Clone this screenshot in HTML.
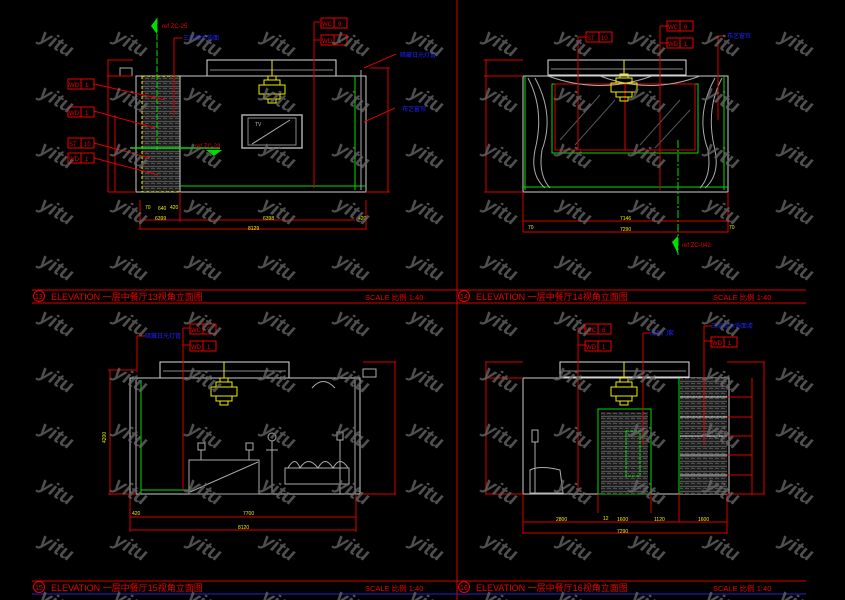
<!DOCTYPE html>
<html><head><meta charset="utf-8"><style>
html,body{margin:0;padding:0;background:#000;}
svg{display:block;}
text{font-family:"Liberation Sans","Noto Sans CJK SC",sans-serif;}
</style></head><body>
<svg width="845" height="600" viewBox="0 0 845 600" xmlns="http://www.w3.org/2000/svg">
<defs>
<pattern id="tex" width="6" height="5" patternUnits="userSpaceOnUse">
<rect width="6" height="5" fill="#1c1c1c"/>
<path d="M0 1 L2 2 L4 1 L6 2 M1 4 L3 3 L5 4" stroke="#777" stroke-width="0.6" fill="none"/>
</pattern>
<g id="chand" stroke="#ee0" fill="none" stroke-width="1">
<rect x="-4" y="-14" width="8" height="4"/><rect x="-8" y="-10" width="16" height="5"/>
<rect x="-13" y="-5" width="26" height="9"/><rect x="-8" y="4" width="16" height="5"/><rect x="-4" y="9" width="8" height="4"/>
</g>
<g id="tagWC"><rect x="0" y="0" width="13" height="10" fill="none" stroke="#e00"/><rect x="13" y="0" width="13" height="10" fill="none" stroke="#e00"/></g>
</defs>
<rect width="845" height="600" fill="#000"/>

<line x1="457" y1="0" x2="457" y2="600" stroke="#d00"/>
<line x1="32" y1="290" x2="806" y2="290" stroke="#d00"/>
<line x1="32" y1="303" x2="806" y2="303" stroke="#d00"/>
<line x1="32" y1="581" x2="806" y2="581" stroke="#d00"/>
<line x1="32" y1="594" x2="806" y2="594" stroke="#22d"/>
<g fill="#e00" font-size="9">
<circle cx="39" cy="296" r="5.5" fill="none" stroke="#e00"/><text x="35" y="299" font-size="7">13</text>
<text x="51" y="300">ELEVATION  一层中餐厅13视角立面图</text><text x="365" y="300" font-size="7.5">SCALE 比例 1:40</text>
<circle cx="464" cy="296" r="5.5" fill="none" stroke="#e00"/><text x="460" y="299" font-size="7">14</text>
<text x="476" y="300">ELEVATION  一层中餐厅14视角立面图</text><text x="713" y="300" font-size="7.5">SCALE 比例 1:40</text>
<circle cx="39" cy="587" r="5.5" fill="none" stroke="#e00"/><text x="35" y="590" font-size="7">15</text>
<text x="51" y="591">ELEVATION  一层中餐厅15视角立面图</text><text x="365" y="591" font-size="7.5">SCALE 比例 1:40</text>
<circle cx="464" cy="587" r="5.5" fill="none" stroke="#e00"/><text x="460" y="590" font-size="7">16</text>
<text x="476" y="591">ELEVATION  一层中餐厅16视角立面图</text><text x="713" y="591" font-size="7.5">SCALE 比例 1:40</text>
</g>

<g>
<rect x="207" y="60" width="129" height="16" fill="none" stroke="#ddd"/>
<line x1="210" y1="70" x2="333" y2="70" stroke="#888"/>
<line x1="207" y1="76" x2="336" y2="76" stroke="#0c0"/>
<line x1="136" y1="76" x2="355" y2="76" stroke="#999"/>
<rect x="136" y="76" width="230" height="116" fill="none" stroke="#ccc"/>
<rect x="142" y="76" width="38" height="116" fill="url(#tex)" stroke="#ee0" stroke-dasharray="3 2"/>
<line x1="180" y1="76" x2="180" y2="192" stroke="#ccc"/>
<line x1="180" y1="186" x2="366" y2="186" stroke="#0d0"/>
<line x1="355" y1="76" x2="355" y2="190" stroke="#0d0"/>
<line x1="361" y1="70" x2="361" y2="190" stroke="#aaa"/>
<line x1="130" y1="148" x2="220" y2="148" stroke="#0d0" stroke-width="1.5"/>
<line x1="157" y1="18" x2="157" y2="150" stroke="#0d0" stroke-dasharray="6 2"/>
<path d="M157 18 L151 26 L157 34Z" fill="#0d0"/>
<path d="M206 150 L222 150 L214 156Z" fill="#0d0"/>
<text x="162" y="28" fill="#e00" font-size="6">ref ZC-25</text>
<text x="195" y="148" fill="#e00" font-size="6">ref ZC-23</text>
<rect x="242" y="115" width="60" height="33" fill="none" stroke="#aaa" stroke-width="1.5"/>
<rect x="248" y="118" width="48" height="27" fill="none" stroke="#888"/>
<line x1="252" y1="144" x2="290" y2="120" stroke="#aaa"/>
<text x="255" y="126" fill="#bbb" font-size="5">TV</text>
<use href="#chand" x="272" y="90"/>
<line x1="272" y1="60" x2="272" y2="76" stroke="#ee0"/>
<rect x="120" y="68" width="12" height="8" fill="none" stroke="#aaa"/>
<g stroke="#d00" fill="none">
<line x1="107" y1="60" x2="133" y2="60"/><line x1="107" y1="76" x2="133" y2="76"/>
<line x1="108" y1="60" x2="108" y2="192"/><line x1="115" y1="115" x2="115" y2="192"/>
<line x1="108" y1="192" x2="136" y2="192"/>
<line x1="140" y1="200" x2="140" y2="230"/><line x1="366" y1="200" x2="366" y2="230"/>
<line x1="140" y1="229" x2="366" y2="229"/><line x1="140" y1="220" x2="355" y2="220"/>
<line x1="180" y1="192" x2="180" y2="222"/>
<line x1="388" y1="68" x2="388" y2="192"/><line x1="370" y1="68" x2="390" y2="68"/><line x1="366" y1="192" x2="390" y2="192"/>
<line x1="314" y1="22" x2="314" y2="188"/><line x1="314" y1="22" x2="320" y2="22"/><line x1="314" y1="40" x2="320" y2="40"/>
<line x1="174" y1="38" x2="174" y2="115"/><line x1="174" y1="38" x2="182" y2="38"/>
<line x1="94" y1="84" x2="165" y2="100"/><line x1="94" y1="111" x2="155" y2="128"/>
<line x1="94" y1="143" x2="150" y2="158"/><line x1="94" y1="158" x2="158" y2="175"/>
<line x1="364" y1="68" x2="396" y2="54"/><line x1="364" y1="122" x2="395" y2="108"/>
</g>
<g font-size="6" fill="#e00">
<use href="#tagWC" x="68" y="79"/><text x="69" y="87">WD</text><text x="85" y="87">1</text>
<use href="#tagWC" x="68" y="107"/><text x="69" y="115">WD</text><text x="85" y="115">1</text>
<use href="#tagWC" x="68" y="138"/><text x="69" y="146">ST</text><text x="84" y="146">10</text>
<use href="#tagWC" x="68" y="153"/><text x="69" y="161">WD</text><text x="85" y="161">1</text>
<use href="#tagWC" x="321" y="18"/><text x="322" y="26">WC</text><text x="338" y="26">9</text>
<use href="#tagWC" x="321" y="35"/><text x="322" y="43">WD</text><text x="338" y="43">1</text>
</g>
<g font-size="6" fill="#22f"><text x="183" y="40">三层樟木饰面</text><text x="400" y="57">暗藏日光灯管</text><text x="402" y="111">布艺窗帘</text></g>
<g font-size="5" fill="#ee0"><text x="158" y="210">640</text><text x="155" y="220">6399</text><text x="263" y="220">6398</text><text x="248" y="230">8129</text><text x="358" y="220">420</text><text x="145" y="209">70</text><text x="170" y="209">420</text></g>
</g>

<g>
<rect x="548" y="60" width="138" height="15" fill="none" stroke="#ddd"/>
<line x1="551" y1="69" x2="683" y2="69" stroke="#888"/>
<rect x="523" y="76" width="205" height="116" fill="none" stroke="#ccc"/>
<line x1="523" y1="187" x2="728" y2="187" stroke="#0d0"/>
<line x1="525" y1="76" x2="525" y2="190" stroke="#0d0"/>
<line x1="724" y1="76" x2="724" y2="190" stroke="#0d0"/>
<rect x="552" y="84" width="146" height="69" fill="none" stroke="#0d0"/>
<rect x="555" y="84" width="140" height="66" fill="none" stroke="#d00"/>
<line x1="625" y1="84" x2="625" y2="150" stroke="#d00"/>
<g stroke="#555"><line x1="560" y1="140" x2="600" y2="95"/><line x1="575" y1="145" x2="615" y2="100"/><line x1="640" y1="145" x2="680" y2="100"/><line x1="655" y1="148" x2="690" y2="110"/></g>
<g stroke="#aaa" fill="none"><path d="M528 78 Q545 110 535 150 Q530 175 545 188"/><path d="M535 78 Q555 115 542 150 Q538 175 550 188"/><path d="M722 78 Q705 110 715 150 Q720 175 705 188"/><path d="M715 78 Q695 115 708 150 Q712 175 700 188"/><path d="M548 76 Q600 95 652 76"/><path d="M600 76 Q650 95 700 76"/></g>
<use href="#chand" x="624" y="88"/><line x1="624" y1="60" x2="624" y2="76" stroke="#ee0"/>
<line x1="678" y1="140" x2="678" y2="255" stroke="#0d0" stroke-dasharray="8 2 2 2"/>
<path d="M678 236 L672 242 L678 254Z" fill="#0d0"/><text x="682" y="247" fill="#e00" font-size="6">ref ZC-042</text>
<g stroke="#d00" fill="none">
<line x1="484" y1="60" x2="523" y2="60"/><line x1="484" y1="76" x2="523" y2="76"/>
<line x1="486" y1="60" x2="486" y2="192"/><line x1="484" y1="192" x2="523" y2="192"/>
<line x1="523" y1="192" x2="523" y2="232"/><line x1="728" y1="192" x2="728" y2="232"/>
<line x1="523" y1="221" x2="728" y2="221"/><line x1="523" y1="232" x2="728" y2="232"/>
<line x1="578" y1="37" x2="578" y2="150"/><line x1="578" y1="37" x2="586" y2="37"/>
<line x1="660" y1="26" x2="660" y2="190"/><line x1="660" y1="26" x2="668" y2="26"/><line x1="660" y1="43" x2="668" y2="43"/>
<line x1="718" y1="36" x2="718" y2="120"/><line x1="718" y1="36" x2="726" y2="36"/>
</g>
<g font-size="6" fill="#e00">
<use href="#tagWC" x="586" y="32"/><text x="587" y="40">ST</text><text x="601" y="40">10</text>
<use href="#tagWC" x="667" y="21"/><text x="668" y="29">WC</text><text x="684" y="29">6</text>
<use href="#tagWC" x="667" y="38"/><text x="668" y="46">WD</text><text x="684" y="46">1</text>
</g>
<text x="727" y="38" fill="#22f" font-size="6">布艺窗帘</text>
<g font-size="5" fill="#ee0"><text x="620" y="220">7146</text><text x="620" y="231">7290</text><text x="528" y="229">70</text><text x="729" y="229">70</text></g>
</g>

<g>
<rect x="160" y="362" width="129" height="16" fill="none" stroke="#ddd"/>
<line x1="163" y1="371" x2="286" y2="371" stroke="#888"/>
<line x1="160" y1="378" x2="289" y2="378" stroke="#0d0"/>
<rect x="130" y="378" width="230" height="116" fill="none" stroke="#ccc"/>
<line x1="136" y1="380" x2="136" y2="494" stroke="#aaa"/>
<line x1="141" y1="380" x2="141" y2="494" stroke="#0d0"/>
<line x1="141" y1="490" x2="190" y2="490" stroke="#0d0"/>
<line x1="355" y1="380" x2="355" y2="494" stroke="#aaa"/>
<rect x="363" y="369" width="13" height="8" fill="none" stroke="#aaa"/>
<use href="#chand" x="224" y="392"/><line x1="224" y1="362" x2="224" y2="378" stroke="#ee0"/>
<path d="M312 388 Q323 375 335 388" stroke="#aaa" fill="none"/>
<g stroke="#aaa" fill="none">
<rect x="189" y="460" width="70" height="34"/><line x1="190" y1="492" x2="258" y2="462"/>
<rect x="198" y="443" width="7" height="7"/><line x1="201" y1="450" x2="201" y2="460"/>
<rect x="246" y="443" width="7" height="7"/><line x1="249" y1="450" x2="249" y2="460"/>
<circle cx="272" cy="437" r="4"/><line x1="272" y1="441" x2="272" y2="492"/><line x1="266" y1="450" x2="278" y2="450"/>
<rect x="285" y="468" width="64" height="16"/><path d="M288 468 Q295 455 300 468 Q308 455 318 468 Q325 455 333 468 Q340 455 348 468"/>
<rect x="337" y="432" width="6" height="8"/><line x1="340" y1="440" x2="340" y2="494"/>
</g>
<g stroke="#d00" fill="none">
<line x1="108" y1="370" x2="136" y2="370"/><line x1="110" y1="370" x2="110" y2="494"/><line x1="108" y1="494" x2="136" y2="494"/>
<line x1="363" y1="362" x2="396" y2="362"/><line x1="395" y1="362" x2="395" y2="494"/><line x1="360" y1="494" x2="396" y2="494"/>
<line x1="130" y1="494" x2="130" y2="532"/><line x1="356" y1="494" x2="356" y2="532"/>
<line x1="130" y1="517" x2="356" y2="517"/><line x1="130" y1="530" x2="356" y2="530"/>
<line x1="183" y1="328" x2="183" y2="490"/><line x1="183" y1="328" x2="190" y2="328"/><line x1="183" y1="345" x2="190" y2="345"/>
<line x1="137" y1="336" x2="137" y2="372"/><line x1="137" y1="336" x2="145" y2="336"/>
</g>
<g font-size="6" fill="#e00">
<use href="#tagWC" x="190" y="324"/><text x="191" y="332">WC</text><text x="207" y="332">5</text>
<use href="#tagWC" x="190" y="341"/><text x="191" y="349">WD</text><text x="207" y="349">1</text>
</g>
<text x="145" y="338" fill="#22f" font-size="6">暗藏日光灯管</text>
<g font-size="5" fill="#ee0"><text x="132" y="515">420</text><text x="243" y="515">7700</text><text x="238" y="529">8120</text><text x="103" y="440" transform="rotate(-90 106 440)">4200</text></g>
</g>

<g>
<rect x="560" y="362" width="129" height="15" fill="none" stroke="#ddd"/>
<line x1="563" y1="371" x2="686" y2="371" stroke="#888"/>
<line x1="560" y1="378" x2="689" y2="378" stroke="#0d0"/>
<rect x="523" y="378" width="206" height="116" fill="none" stroke="#ccc"/>
<rect x="680" y="378" width="47" height="116" fill="url(#tex)"/>
<line x1="679" y1="378" x2="679" y2="494" stroke="#0d0"/>
<g stroke="#ccc"><line x1="680" y1="397" x2="727" y2="397"/><line x1="680" y1="417" x2="727" y2="417"/><line x1="680" y1="436" x2="727" y2="436"/><line x1="680" y1="455" x2="727" y2="455"/><line x1="680" y1="475" x2="727" y2="475"/></g>
<rect x="598" y="409" width="53" height="85" fill="none" stroke="#0d0"/>
<rect x="601" y="412" width="47" height="82" fill="url(#tex)"/>
<rect x="626" y="431" width="14" height="45" fill="none" stroke="#0d0" stroke-dasharray="3 1"/>
<use href="#chand" x="624" y="392"/><line x1="624" y1="362" x2="624" y2="378" stroke="#ee0"/>
<g stroke="#aaa" fill="none"><rect x="532" y="430" width="6" height="12"/><line x1="535" y1="442" x2="535" y2="493"/><path d="M530 493 L530 470 Q540 465 560 470 L563 493 Z"/></g>
<g stroke="#d00" fill="none">
<line x1="485" y1="362" x2="523" y2="362"/><line x1="485" y1="378" x2="523" y2="378"/><line x1="486" y1="362" x2="486" y2="494"/><line x1="485" y1="494" x2="523" y2="494"/>
<line x1="727" y1="362" x2="765" y2="362"/><line x1="764" y1="362" x2="764" y2="494"/><line x1="727" y1="494" x2="765" y2="494"/>
<line x1="752" y1="378" x2="752" y2="494"/>
<line x1="727" y1="397" x2="752" y2="397"/><line x1="727" y1="417" x2="752" y2="417"/><line x1="727" y1="436" x2="752" y2="436"/><line x1="727" y1="455" x2="752" y2="455"/><line x1="727" y1="475" x2="752" y2="475"/>
<line x1="523" y1="494" x2="523" y2="534"/><line x1="727" y1="494" x2="727" y2="534"/>
<line x1="523" y1="522" x2="727" y2="522"/><line x1="523" y1="533" x2="727" y2="533"/>
<line x1="598" y1="494" x2="598" y2="513"/><line x1="651" y1="494" x2="651" y2="513"/><line x1="679" y1="494" x2="679" y2="522"/>
<line x1="578" y1="328" x2="578" y2="490"/><line x1="578" y1="328" x2="586" y2="328"/><line x1="578" y1="345" x2="586" y2="345"/>
<line x1="643" y1="333" x2="643" y2="445"/><line x1="643" y1="333" x2="650" y2="333"/>
<line x1="704" y1="326" x2="704" y2="445"/><line x1="704" y1="326" x2="712" y2="326"/><line x1="704" y1="341" x2="712" y2="341"/>
</g>
<g font-size="6" fill="#e00">
<use href="#tagWC" x="585" y="324"/><text x="586" y="332">WC</text><text x="602" y="332">6</text>
<use href="#tagWC" x="585" y="341"/><text x="586" y="349">WD</text><text x="602" y="349">1</text>
<use href="#tagWC" x="711" y="337"/><text x="712" y="345">WD</text><text x="728" y="345">1</text>
</g>
<g font-size="6" fill="#22f"><text x="650" y="335">成品门套</text><text x="711" y="328">三层樟木饰面漆</text></g>
<g font-size="5" fill="#ee0"><text x="556" y="521">2800</text><text x="617" y="521">1600</text><text x="654" y="521">1120</text><text x="698" y="521">1600</text><text x="617" y="533">7290</text><text x="603" y="520">12</text></g>
</g>

<g fill="#6a6a6a" fill-opacity="0.75" font-size="20" font-style="italic" font-weight="bold">
<g id="wmrow">
<text transform="translate(38,40) rotate(30)">yitu</text><text transform="translate(112,40) rotate(30)">yitu</text>
<text transform="translate(186,40) rotate(30)">yitu</text><text transform="translate(260,40) rotate(30)">yitu</text>
<text transform="translate(334,40) rotate(30)">yitu</text><text transform="translate(408,40) rotate(30)">yitu</text>
<text transform="translate(482,40) rotate(30)">yitu</text><text transform="translate(556,40) rotate(30)">yitu</text>
<text transform="translate(630,40) rotate(30)">yitu</text><text transform="translate(704,40) rotate(30)">yitu</text>
<text transform="translate(778,40) rotate(30)">yitu</text>
</g>
<use href="#wmrow" y="56"/><use href="#wmrow" y="112"/><use href="#wmrow" y="168"/><use href="#wmrow" y="224"/>
<use href="#wmrow" y="280"/><use href="#wmrow" y="336"/><use href="#wmrow" y="392"/><use href="#wmrow" y="448"/><use href="#wmrow" y="504"/><use href="#wmrow" y="560"/>
</g>
</svg>
</body></html>
